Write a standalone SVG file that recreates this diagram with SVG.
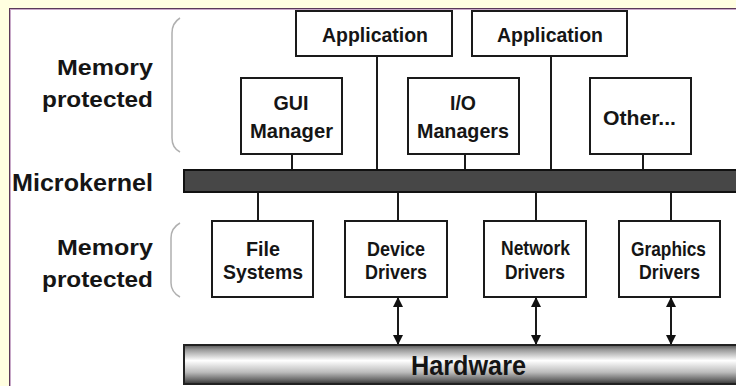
<svg xmlns="http://www.w3.org/2000/svg" width="736" height="386" viewBox="0 0 736 386">
<defs>
<style>
.box{fill:#fff;stroke:#1a1a1a;stroke-width:2}
.t{font-family:"Liberation Sans",Arial,sans-serif;font-weight:bold;fill:#151515;text-anchor:middle}
.b{font-size:21px}
.side{font-family:"Liberation Sans",Arial,sans-serif;font-weight:bold;fill:#151515;font-size:21.5px;text-anchor:end}
.ln{stroke:#1a1a1a;stroke-width:2;fill:none}
.brace{stroke:#b0b0b0;stroke-width:1.5;fill:none}
</style>
<linearGradient id="hw" x1="0" y1="0" x2="0" y2="1">
<stop offset="0" stop-color="#555"/>
<stop offset="0.12" stop-color="#999"/>
<stop offset="0.4" stop-color="#fff"/>
<stop offset="0.7" stop-color="#bbb"/>
<stop offset="0.9" stop-color="#666"/>
<stop offset="1" stop-color="#333"/>
</linearGradient>
<marker id="ah" viewBox="0 0 10 10" refX="9" refY="5" markerWidth="10" markerHeight="10" markerUnits="userSpaceOnUse" orient="auto-start-reverse">
<path d="M0,0 L10,5 L0,10 z" fill="#111"/>
</marker>
</defs>
<rect x="0" y="0" width="736" height="386" fill="#ffffe0"/>
<rect x="9" y="8" width="727" height="378" fill="#fff"/>
<line x1="9.5" y1="8" x2="9.5" y2="386" stroke="#5a3a58" stroke-width="1"/>
<line x1="9" y1="8.5" x2="736" y2="8.5" stroke="#5a3a58" stroke-width="1"/>
<line x1="10.5" y1="9" x2="10.5" y2="386" stroke="#c8a8c8" stroke-width="1"/>
<line x1="10" y1="9.5" x2="736" y2="9.5" stroke="#c8a8c8" stroke-width="1"/>

<g id="labels">
<text class="side" x="153" y="75" textLength="96" lengthAdjust="spacingAndGlyphs">Memory</text>
<text class="side" x="153" y="107" textLength="111" lengthAdjust="spacingAndGlyphs">protected</text>
<text class="side" x="12" y="191" style="text-anchor:start;font-size:24px" textLength="141" lengthAdjust="spacingAndGlyphs">Microkernel</text>
<text class="side" x="153" y="255" textLength="96" lengthAdjust="spacingAndGlyphs">Memory</text>
<text class="side" x="153" y="287" textLength="111" lengthAdjust="spacingAndGlyphs">protected</text>
<path class="brace" d="M180,18 Q172,23 172,33 L172,138 Q172,148 180,152"/>
<path class="brace" d="M180,223 Q171,228 171,238 L171,283 Q171,292 180,297"/>
</g>

<g id="connectors">
<line class="ln" x1="377" y1="56" x2="377" y2="170"/>
<line class="ln" x1="551" y1="56" x2="551" y2="170"/>
<line class="ln" x1="292" y1="154" x2="292" y2="170"/>
<line class="ln" x1="465" y1="154" x2="465" y2="170"/>
<line class="ln" x1="643" y1="154" x2="643" y2="170"/>
<line class="ln" x1="258" y1="192" x2="258" y2="221"/>
<line class="ln" x1="398" y1="192" x2="398" y2="221"/>
<line class="ln" x1="536" y1="192" x2="536" y2="221"/>
<line class="ln" x1="671" y1="192" x2="671" y2="221"/>
<line class="ln" x1="398" y1="298" x2="398" y2="344" marker-start="url(#ah)" marker-end="url(#ah)"/>
<line class="ln" x1="536" y1="298" x2="536" y2="344" marker-start="url(#ah)" marker-end="url(#ah)"/>
<line class="ln" x1="671" y1="298" x2="671" y2="344" marker-start="url(#ah)" marker-end="url(#ah)"/>
</g>

<g id="app1"><rect class="box" x="296" y="11" width="156" height="45"/><text class="t b" x="375" y="42" textLength="106" lengthAdjust="spacingAndGlyphs">Application</text></g>
<g id="app2"><rect class="box" x="472" y="11" width="155" height="45"/><text class="t b" x="550" y="42" textLength="106" lengthAdjust="spacingAndGlyphs">Application</text></g>
<g id="gui"><rect class="box" x="241" y="78" width="101" height="76"/><text class="t b" x="291" y="110" textLength="35" lengthAdjust="spacingAndGlyphs">GUI</text><text class="t b" x="291.5" y="138" textLength="83" lengthAdjust="spacingAndGlyphs">Manager</text></g>
<g id="io"><rect class="box" x="408" y="78" width="111" height="76"/><text class="t b" x="463" y="110" textLength="26" lengthAdjust="spacingAndGlyphs">I/O</text><text class="t b" x="463" y="138" textLength="92" lengthAdjust="spacingAndGlyphs">Managers</text></g>
<g id="other"><rect class="box" x="590" y="78" width="101" height="76"/><text class="t b" x="639.5" y="125" textLength="73" lengthAdjust="spacingAndGlyphs">Other...</text></g>

<g id="microkernel"><rect x="184" y="170" width="560" height="22" fill="#474747" stroke="#111" stroke-width="2"/></g>

<g id="fs"><rect class="box" x="212" y="221" width="101" height="76"/><text class="t b" x="263" y="256" textLength="34" lengthAdjust="spacingAndGlyphs">File</text><text class="t b" x="263" y="279" textLength="80" lengthAdjust="spacingAndGlyphs">Systems</text></g>
<g id="dd"><rect class="box" x="345" y="221" width="102" height="76"/><text class="t b" x="396" y="256" textLength="58" lengthAdjust="spacingAndGlyphs">Device</text><text class="t b" x="396" y="279" textLength="62" lengthAdjust="spacingAndGlyphs">Drivers</text></g>
<g id="nd"><rect class="box" x="484" y="221" width="102" height="76"/><text class="t b" x="535.5" y="255" textLength="69" lengthAdjust="spacingAndGlyphs">Network</text><text class="t b" x="535" y="279" textLength="60" lengthAdjust="spacingAndGlyphs">Drivers</text></g>
<g id="gd"><rect class="box" x="619" y="221" width="101" height="76"/><text class="t b" x="668.5" y="256" textLength="75" lengthAdjust="spacingAndGlyphs">Graphics</text><text class="t b" x="669.5" y="279" textLength="61" lengthAdjust="spacingAndGlyphs">Drivers</text></g>

<g id="hardware"><rect x="184" y="345" width="560" height="39" fill="url(#hw)" stroke="#222" stroke-width="2"/><text class="t" x="468.5" y="375" style="font-size:27px" textLength="115" lengthAdjust="spacingAndGlyphs">Hardware</text></g>
</svg>
